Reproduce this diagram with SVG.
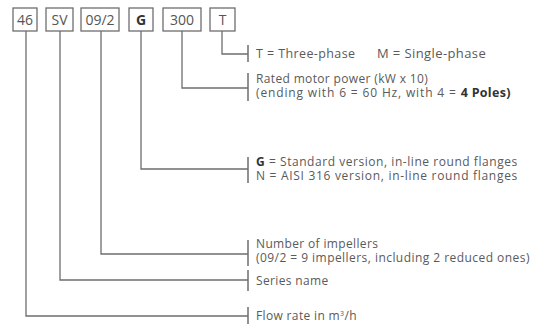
<svg xmlns="http://www.w3.org/2000/svg" width="541" height="324" viewBox="0 0 541 324">
<style>
.box{fill:#fff;stroke:#6e6e6e;stroke-width:1.3}
.bt{font-family:"Open Sans","Liberation Sans",sans-serif;font-size:14px;fill:#555;text-anchor:middle}
.ln{fill:none;stroke:#6e6e6e;stroke-width:1.3}
.tk{stroke:#6e6e6e;stroke-width:1.5}
.t{font-family:"Open Sans","Liberation Sans",sans-serif;font-size:12px;letter-spacing:0.35px;fill:#5a5a5a}
.b{font-weight:bold;fill:#333}
</style>
<rect width="541" height="324" fill="#fff"/>
<g id="connectors">
<polyline class="ln" points="222,31 222,54 248,54"/>
<line class="tk" x1="248" y1="45" x2="248" y2="62"/>
<polyline class="ln" points="182,31 182,88 248,88"/>
<line class="tk" x1="248" y1="73" x2="248" y2="101"/>
<polyline class="ln" points="141,31 141,169 248,169"/>
<line class="tk" x1="248" y1="157" x2="248" y2="183"/>
<polyline class="ln" points="101,31 101,254 248,254"/>
<line class="tk" x1="248" y1="240" x2="248" y2="266"/>
<polyline class="ln" points="60,31 60,280 248,280"/>
<line class="tk" x1="248" y1="270" x2="248" y2="291"/>
<polyline class="ln" points="26,31 26,316 248,316"/>
<line class="tk" x1="248" y1="307" x2="248" y2="324"/>
</g>
<g id="n46"><rect class="box" x="13" y="8" width="24" height="23"/><text class="bt" x="25" y="25">46</text></g>
<g id="nSV"><rect class="box" x="46" y="8" width="27" height="23"/><text class="bt" x="59.5" y="25">SV</text></g>
<g id="n092"><rect class="box" x="81" y="8" width="38" height="23"/><text class="bt" x="100" y="25">09/2</text></g>
<g id="nG"><rect class="box" x="129" y="8" width="24" height="23"/><text class="bt" x="141" y="25" style="font-weight:bold;fill:#333">G</text></g>
<g id="n300"><rect class="box" x="163" y="8" width="38" height="23"/><text class="bt" x="182" y="25">300</text></g>
<g id="nT"><rect class="box" x="210" y="8" width="25" height="23"/><text class="bt" x="222.5" y="25">T</text></g>
<g id="lblT"><text class="t" x="256" y="58" style="font-size:12.5px;letter-spacing:0.4px">T = Three-phase</text><text class="t" x="377" y="58" style="font-size:13px;letter-spacing:0.4px">M = Single-phase</text></g>
<g id="lbl300"><text class="t" x="256" y="83">Rated motor power (kW x 10)</text><text class="t" x="256" y="97" style="letter-spacing:0.85px">(ending with 6 = 60 Hz, with 4 = <tspan class="b" style="font-size:12.5px;letter-spacing:0.3px">4 Poles)</tspan></text></g>
<g id="lblG"><text class="t" x="256" y="166" style="letter-spacing:0.55px"><tspan class="b">G</tspan> = Standard version, in-line round flanges</text><text class="t" x="256" y="180" style="letter-spacing:0.7px">N = AISI 316 version, in-line round flanges</text></g>
<g id="lbl092"><text class="t" x="256" y="248">Number of impellers</text><text class="t" x="256" y="262" style="letter-spacing:0.45px">(09/2 = 9 impellers, including 2 reduced ones)</text></g>
<g id="lblSV"><text class="t" x="256" y="285">Series name</text></g>
<g id="lbl46"><text class="t" x="256" y="320">Flow rate in m<tspan style="font-size:7px" dy="-4">3</tspan><tspan dy="4">/h</tspan></text></g>
</svg>
